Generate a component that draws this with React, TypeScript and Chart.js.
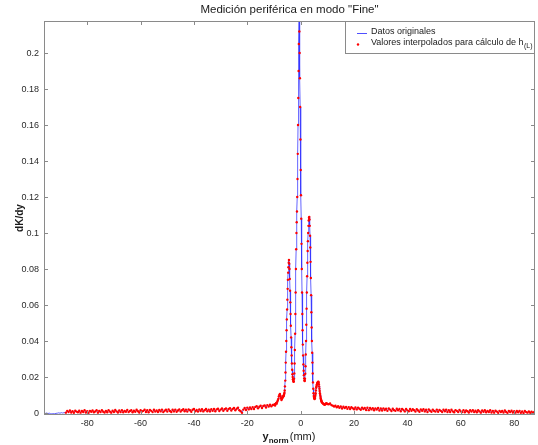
import React, { useEffect, useRef } from 'react';
import { Chart, registerables } from 'chart.js';

Chart.register(...registerables);

// ---------- text ----------
const titleText = 'Medición periférica en modo "Fine"';
const yAxisTitle = 'dK/dy';
const xAxisTitleMain = 'y';
const xAxisTitleSub = 'norm';
const xAxisTitleUnit = '(mm)';
const legendOriginal = 'Datos originales';
const legendInterp = 'Valores interpolados para cálculo de h';
const legendInterpSub = '(L)';

// ---------- axes ----------
const xTicks = [-80, -60, -40, -20, 0, 20, 40, 60, 80];
const xTickLabels = ['-80', '-60', '-40', '-20', '0', '20', '40', '60', '80'];
const yTicks = [0, 0.02, 0.04, 0.06, 0.08, 0.1, 0.12, 0.14, 0.16, 0.18, 0.2];
const yTickLabels = ['0', '0.02', '0.04', '0.06', '0.08', '0.1', '0.12', '0.14', '0.16', '0.18', '0.2'];
const xMin = -96.2;
const xMax = 87.8;
const yMin = -0.0011;
const yMax = 0.2178;

// interpolated (red) values exist from this position on
const interpFrom = -88;

// ---------- data (mm, dK/dy) ----------
// left tail, original data only: -96.2 .. -88.7 step 0.5
const tailStart = -96.2;
const tailStep = 0.5;
const tailValues = [
  0.0001, -0.0002, 0.0000, -0.0003, -0.0001, -0.0004, -0.0005, -0.0003,
  -0.0004, -0.0002, -0.0001, 0.0001, -0.0001, 0.0002, 0.0000, 0.0002,
];

// left baseline: -88.0 .. -10.5 step 0.5
const leftStart = -88;
const leftStep = 0.5;
const leftValues = [
  0.0002, 0.0012, 0.0005, 0.0014, 0.0003, 0.0010, 0.0001, 0.0013, 0.0008, 0.0004,
  0.0013, 0.0002, 0.0011, 0.0006, 0.0015, 0.0003, 0.0010, 0.0001, 0.0012, 0.0007,
  0.0014, 0.0004, 0.0009, 0.0015, 0.0002, 0.0011, 0.0005, 0.0016, 0.0007, 0.0003,
  0.0012, 0.0004, 0.0016, 0.0008, 0.0002, 0.0013, 0.0006, 0.0017, 0.0009, 0.0003,
  0.0014, 0.0005, 0.0016, 0.0004, 0.0012, 0.0007, 0.0017, 0.0005, 0.0011, 0.0015,
  0.0004, 0.0013, 0.0007, 0.0018, 0.0010, 0.0003, 0.0015, 0.0008, 0.0012, 0.0018,
  0.0006, 0.0015, 0.0004, 0.0017, 0.0012, 0.0005, 0.0018, 0.0008, 0.0014, 0.0006,
  0.0017, 0.0009, 0.0019, 0.0005, 0.0013, 0.0018, 0.0008, 0.0020, 0.0011, 0.0006,
  0.0018, 0.0009, 0.0019, 0.0007, 0.0014, 0.0020, 0.0008, 0.0016, 0.0021, 0.0010,
  0.0019, 0.0008, 0.0020, 0.0015, 0.0007, 0.0018, 0.0022, 0.0010, 0.0017, 0.0008,
  0.0020, 0.0011, 0.0021, 0.0009, 0.0016, 0.0022, 0.0010, 0.0019, 0.0009, 0.0021,
  0.0012, 0.0022, 0.0010, 0.0020, 0.0024, 0.0011, 0.0019, 0.0025, 0.0012, 0.0021,
  0.0026, 0.0013, 0.0022, 0.0027, 0.0014, 0.0023, 0.0028, 0.0015, 0.0024, 0.0029,
  0.0016, 0.0010, 0.0001, 0.0019, 0.0028, 0.0017, 0.0030, 0.0020, 0.0031, 0.0022,
  0.0033, 0.0022, 0.0034, 0.0038, 0.0026, 0.0035, 0.0040, 0.0028, 0.0039, 0.0042,
  0.0031, 0.0044, 0.0036, 0.0046, 0.0037, 0.0045,
];

// shoulder left of the peaks: -10.0 .. -7.2 step 0.2
const shoulderLStart = -10;
const shoulderLStep = 0.2;
const shoulderLValues = [
  0.0044, 0.0049, 0.0042, 0.0051, 0.0056, 0.0052, 0.0062, 0.0070, 0.0078, 0.0092,
  0.0100, 0.0106, 0.0096, 0.0082, 0.0072,
];

// central peaks: -7.0 .. 8.0 step 0.1
const peakStart = -7;
const peakStep = 0.1;
const peakValues = [
  0.0079, 0.0084, 0.0088, 0.0090, 0.0091, 0.0093, 0.0096, 0.0100, 0.0106, 0.0113,
  0.0125, 0.0148, 0.0180, 0.0225, 0.0280, 0.0340, 0.0400, 0.0460, 0.0520, 0.0575,
  0.0630, 0.0690, 0.0740, 0.0780, 0.0810, 0.0835, 0.0850, 0.0830, 0.0800, 0.0745,
  0.0680, 0.0615, 0.0550, 0.0485, 0.0420, 0.0365, 0.0320, 0.0275, 0.0240, 0.0215,
  0.0200, 0.0188, 0.0180, 0.0174, 0.0175, 0.0190, 0.0220, 0.0275, 0.0350, 0.0440,
  0.0550, 0.0670, 0.0800, 0.0910, 0.1000, 0.1060, 0.1120, 0.1200, 0.1300, 0.1440,
  0.1600, 0.1750, 0.1900, 0.2050, 0.2190, 0.2120, 0.2000, 0.1860, 0.1700, 0.1520,
  0.1350, 0.1210, 0.1080, 0.0940, 0.0800, 0.0670, 0.0550, 0.0460, 0.0380, 0.0320,
  0.0270, 0.0235, 0.0210, 0.0192, 0.0180, 0.0178, 0.0190, 0.0218, 0.0260, 0.0325,
  0.0400, 0.0490, 0.0580, 0.0670, 0.0760, 0.0835, 0.0900, 0.0955, 0.1000, 0.1040,
  0.1070, 0.1085, 0.1090, 0.1075, 0.1040, 0.0985, 0.0920, 0.0840, 0.0750, 0.0655,
  0.0560, 0.0475, 0.0400, 0.0335, 0.0280, 0.0220, 0.0170, 0.0135, 0.0110, 0.0095,
  0.0085, 0.0080, 0.0078, 0.0082, 0.0090, 0.0100, 0.0110, 0.0125, 0.0140, 0.0148,
  0.0155, 0.0160, 0.0165, 0.0168, 0.0170, 0.0173, 0.0174, 0.0170, 0.0160, 0.0148,
  0.0135, 0.0122, 0.0110, 0.0100, 0.0090, 0.0082, 0.0075, 0.0070, 0.0065, 0.0061,
  0.0058,
];

// shoulder right of the peaks: 8.2 .. 10.0 step 0.2
const shoulderRStart = 8.2;
const shoulderRStep = 0.2;
const shoulderRValues = [
  0.0055, 0.0052, 0.0050, 0.0048, 0.0046, 0.0049, 0.0052, 0.0054, 0.0052, 0.0050,
];

// right baseline: 10.5 .. 87.5 step 0.5
const rightStart = 10.5;
const rightStep = 0.5;
const rightValues = [
  0.0049, 0.0053, 0.0044, 0.0041, 0.0036, 0.0040, 0.0032, 0.0038, 0.0029, 0.0036,
  0.0025, 0.0035, 0.0028, 0.0034, 0.0024, 0.0033, 0.0022, 0.0032, 0.0027, 0.0021,
  0.0031, 0.0020, 0.0030, 0.0024, 0.0018, 0.0030, 0.0022, 0.0028, 0.0017, 0.0029,
  0.0016, 0.0028, 0.0020, 0.0027, 0.0015, 0.0026, 0.0019, 0.0028, 0.0014, 0.0025,
  0.0014, 0.0026, 0.0017, 0.0024, 0.0012, 0.0025, 0.0019, 0.0011, 0.0024, 0.0016,
  0.0012, 0.0024, 0.0015, 0.0022, 0.0010, 0.0023, 0.0017, 0.0009, 0.0022, 0.0014,
  0.0010, 0.0022, 0.0013, 0.0021, 0.0016, 0.0008, 0.0021, 0.0014, 0.0007, 0.0020,
  0.0012, 0.0021, 0.0009, 0.0018, 0.0006, 0.0020, 0.0013, 0.0007, 0.0019, 0.0011,
  0.0008, 0.0019, 0.0007, 0.0017, 0.0012, 0.0005, 0.0018, 0.0010, 0.0019, 0.0006,
  0.0016, 0.0006, 0.0018, 0.0009, 0.0004, 0.0016, 0.0012, 0.0005, 0.0017, 0.0009,
  0.0005, 0.0016, 0.0004, 0.0014, 0.0010, 0.0003, 0.0015, 0.0008, 0.0016, 0.0005,
  0.0013, 0.0004, 0.0015, 0.0009, 0.0002, 0.0014, 0.0007, 0.0015, 0.0004, 0.0012,
  0.0006, 0.0015, 0.0003, 0.0012, 0.0002, 0.0013, 0.0008, 0.0001, 0.0012, 0.0005,
  0.0011, 0.0003, 0.0014, 0.0006, 0.0001, 0.0012, 0.0005, 0.0013, 0.0003, 0.0010,
  0.0002, 0.0011, 0.0004, 0.0012, 0.0001, 0.0009, 0.0000, 0.0011, 0.0005, 0.0002,
  0.0009, 0.0001, 0.0008, 0.0000, 0.0006,
];

type Pt = { x: number; y: number };
const segment = (start: number, step: number, values: number[]): Pt[] =>
  values.map((v, i) => ({ x: Math.round((start + i * step) * 100) / 100, y: v }));

const originalPoints: Pt[] = [
  ...segment(tailStart, tailStep, tailValues),
  ...segment(leftStart, leftStep, leftValues),
  ...segment(shoulderLStart, shoulderLStep, shoulderLValues),
  ...segment(peakStart, peakStep, peakValues),
  ...segment(shoulderRStart, shoulderRStep, shoulderRValues),
  ...segment(rightStart, rightStep, rightValues),
];
const interpPoints: Pt[] = originalPoints.filter((p) => p.x >= interpFrom);

const FONT = '"Liberation Sans", Arial, Helvetica, sans-serif';
const FRAME = '#8a8a8a';
const TEXT = '#1a1a1a';

const decorPlugin = {
  id: 'matlabDecor',
  afterDraw(chart: any) {
    const { ctx, chartArea: a, scales } = chart;
    const xs = scales.x;
    const ys = scales.y;
    ctx.save();
    // frame
    ctx.strokeStyle = FRAME;
    ctx.lineWidth = 1;
    ctx.strokeRect(a.left + 0.5, a.top + 0.5, a.right - a.left - 1, a.bottom - a.top - 1);
    // inward ticks
    const tl = 4;
    ctx.beginPath();
    xTicks.forEach((v) => {
      const px = Math.round(xs.getPixelForValue(v)) + 0.5;
      ctx.moveTo(px, a.bottom);
      ctx.lineTo(px, a.bottom - tl);
      ctx.moveTo(px, a.top);
      ctx.lineTo(px, a.top + tl);
    });
    yTicks.forEach((v) => {
      const py = Math.round(ys.getPixelForValue(v)) + 0.5;
      ctx.moveTo(a.left, py);
      ctx.lineTo(a.left + tl, py);
      ctx.moveTo(a.right, py);
      ctx.lineTo(a.right - tl, py);
    });
    ctx.stroke();

    // title
    ctx.fillStyle = TEXT;
    ctx.font = `11.5px ${FONT}`;
    ctx.textAlign = 'center';
    ctx.textBaseline = 'middle';
    ctx.fillText(titleText, (a.left + a.right) / 2, 10);

    // y title
    ctx.save();
    ctx.translate(20, (a.top + a.bottom) / 2);
    ctx.rotate(-Math.PI / 2);
    ctx.font = `bold 10px ${FONT}`;
    ctx.fillText(yAxisTitle, 0, 0);
    ctx.restore();

    // x title with subscript
    ctx.textAlign = 'left';
    ctx.textBaseline = 'alphabetic';
    const fMain = `bold 11px ${FONT}`;
    const fSub = `bold 8px ${FONT}`;
    const fUnit = `11px ${FONT}`;
    ctx.font = fMain;
    const wMain = ctx.measureText(xAxisTitleMain).width;
    ctx.font = fSub;
    const wSub = ctx.measureText(xAxisTitleSub).width;
    ctx.font = fUnit;
    const wUnit = ctx.measureText(xAxisTitleUnit).width;
    const total = wMain + wSub + wUnit + 1;
    let xx = 289 - total / 2;
    const base = 440;
    ctx.font = fMain;
    ctx.fillText(xAxisTitleMain, xx, base);
    xx += wMain;
    ctx.font = fSub;
    ctx.fillText(xAxisTitleSub, xx, base + 3);
    xx += wSub + 1;
    ctx.font = fUnit;
    ctx.fillText(xAxisTitleUnit, xx, base);

    // legend
    const lx = 345;
    const ly = a.top;
    const lw = a.right - lx;
    const lh = 33;
    ctx.fillStyle = '#ffffff';
    ctx.fillRect(lx, ly, lw, lh);
    ctx.strokeStyle = FRAME;
    ctx.strokeRect(lx + 0.5, ly + 0.5, lw - 1, lh - 1);
    ctx.strokeStyle = 'rgba(60,60,255,0.9)';
    ctx.beginPath();
    ctx.moveTo(357, ly + 12.5);
    ctx.lineTo(367, ly + 12.5);
    ctx.stroke();
    ctx.fillStyle = '#ff0000';
    ctx.beginPath();
    ctx.arc(358, ly + 23.5, 1.2, 0, Math.PI * 2);
    ctx.fill();
    ctx.fillStyle = TEXT;
    ctx.font = `9px ${FONT}`;
    ctx.textBaseline = 'middle';
    ctx.fillText(legendOriginal, 371, ly + 11);
    ctx.fillText(legendInterp, 371, ly + 22);
    const wI = ctx.measureText(legendInterp).width;
    ctx.font = `7px ${FONT}`;
    ctx.fillText(legendInterpSub, 371 + wI + 0.5, ly + 25);
    ctx.restore();
  },
};

export default function App() {
  const canvasRef = useRef<HTMLCanvasElement | null>(null);

  useEffect(() => {
    document.body.style.margin = '0';
    const canvas = canvasRef.current;
    if (!canvas) return;
    Chart.defaults.font.family = FONT;
    const chart = new Chart(canvas, {
      type: 'scatter',
      data: {
        datasets: [
          {
            label: legendInterp,
            data: interpPoints,
            showLine: false,
            pointRadius: 1.2,
            pointBorderWidth: 0,
            pointBackgroundColor: '#ff0000',
            pointHoverRadius: 0,
          },
          {
            label: legendOriginal,
            data: originalPoints,
            showLine: true,
            borderColor: 'rgba(50,50,255,0.75)',
            borderWidth: 1,
            pointRadius: 0,
            pointHoverRadius: 0,
            tension: 0,
          },
        ],
      },
      options: {
        animation: false,
        responsive: true,
        maintainAspectRatio: false,
        events: [],
        layout: { padding: { left: 8, right: 3, top: 21, bottom: 0 } },
        plugins: {
          legend: { display: false },
          tooltip: { enabled: false },
          title: { display: false },
        },
        scales: {
          x: {
            type: 'linear',
            min: xMin,
            max: xMax,
            grid: { display: false, drawTicks: false },
            border: { display: false },
            afterBuildTicks: (scale: any) => {
              scale.ticks = xTicks.map((v) => ({ value: v }));
            },
            afterFit: (scale: any) => {
              scale.height = 30;
            },
            ticks: {
              padding: 3,
              maxRotation: 0,
              autoSkip: false,
              color: '#2a2a2a',
              font: { size: 9 },
              callback: (_v: any, i: number) => xTickLabels[i],
            },
          },
          y: {
            type: 'linear',
            min: yMin,
            max: yMax,
            grid: { display: false, drawTicks: false },
            border: { display: false },
            afterBuildTicks: (scale: any) => {
              scale.ticks = yTicks.map((v) => ({ value: v }));
            },
            afterFit: (scale: any) => {
              scale.width = 36;
            },
            ticks: {
              padding: 5,
              autoSkip: false,
              color: '#2a2a2a',
              font: { size: 9 },
              callback: (_v: any, i: number) => yTickLabels[i],
            },
          },
        },
      },
      plugins: [decorPlugin],
    });
    return () => chart.destroy();
  }, []);

  return (
    <div style={{ position: 'relative', width: 538, height: 445 }}>
      <canvas ref={canvasRef} />
    </div>
  );
}
